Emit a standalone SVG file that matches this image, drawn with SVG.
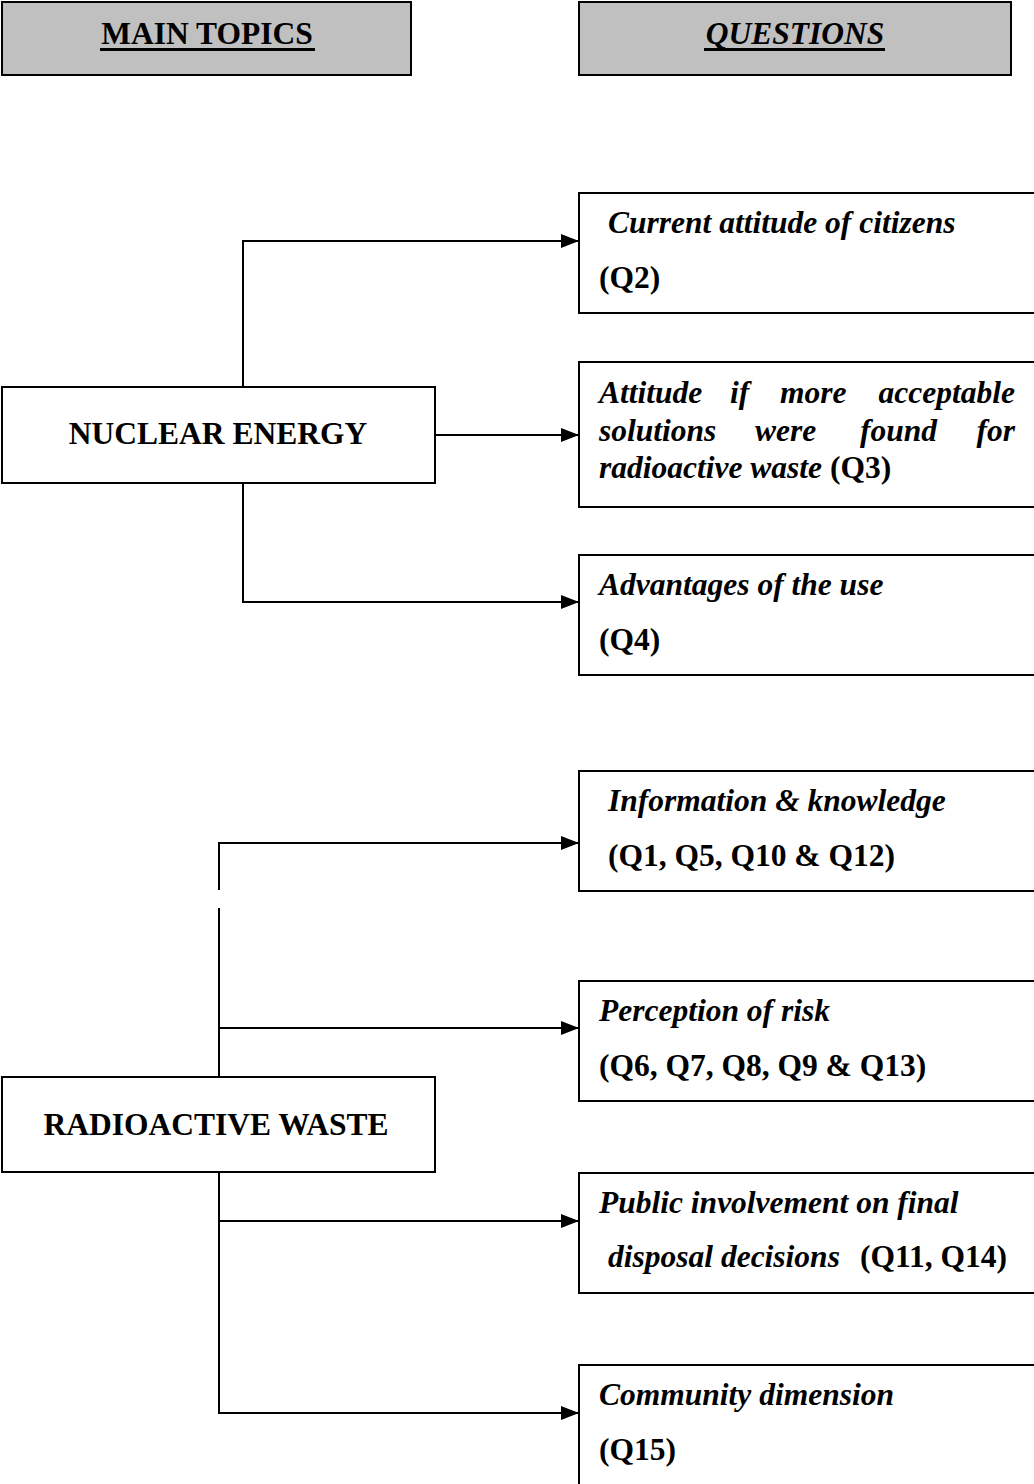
<svg xmlns="http://www.w3.org/2000/svg" width="1034" height="1484" viewBox="0 0 1034 1484">
<style>
.hdr{fill:#c0c0c0;stroke:#000;stroke-width:2}
.box{fill:#fff;stroke:#000;stroke-width:2}
.t{font-family:"Liberation Serif","Times New Roman",serif;font-size:31.5px;font-weight:bold;fill:#000}
.i{font-style:italic}
.c{text-anchor:middle}
.e{text-anchor:end}
.ln{fill:none;stroke:#000;stroke-width:2}
.ul{fill:#000}
</style>
<defs>
<marker id="ah" viewBox="0 0 18 14" refX="18" refY="7" markerWidth="9" markerHeight="7" markerUnits="strokeWidth" orient="auto">
<path d="M0,0 L18,7 L0,14 Z" fill="#000"/>
</marker>
</defs>
<g id="hdr-main"><rect class="hdr" x="2" y="2" width="409" height="73"/><text class="t c" x="207" y="44">MAIN TOPICS</text><rect class="ul" x="100" y="48" width="215" height="3"/></g>
<g id="hdr-questions"><rect class="hdr" x="579" y="2" width="432" height="73"/><text class="t i c" x="795" y="44">QUESTIONS</text><rect class="ul" x="704" y="48" width="181" height="3"/></g>

<g id="connectors">
<polyline class="ln" points="243,387 243,241 579,241" marker-end="url(#ah)"/>
<line class="ln" x1="435" y1="435" x2="579" y2="435" marker-end="url(#ah)"/>
<polyline class="ln" points="243,483 243,602 579,602" marker-end="url(#ah)"/>
<polyline class="ln" points="219,890 219,843 579,843" marker-end="url(#ah)"/>
<line class="ln" x1="219" y1="908" x2="219" y2="1077"/>
<line class="ln" x1="219" y1="1028" x2="579" y2="1028" marker-end="url(#ah)"/>
<polyline class="ln" points="219,1172 219,1413 579,1413" marker-end="url(#ah)"/>
<line class="ln" x1="219" y1="1221" x2="579" y2="1221" marker-end="url(#ah)"/>
</g>

<g id="nuclear-energy"><rect class="box" x="2" y="387" width="433" height="96"/><text class="t c" x="218" y="444">NUCLEAR ENERGY</text></g>
<g id="radioactive-waste"><rect class="box" x="2" y="1077" width="433" height="95"/><text class="t c" x="216" y="1135">RADIOACTIVE WASTE</text></g>

<g id="q2"><rect class="box" x="579" y="193" width="470" height="120"/>
<text class="t i" x="608" y="233">Current attitude of citizens</text>
<text class="t" x="599" y="288">(Q2)</text></g>

<g id="q3"><rect class="box" x="579" y="362" width="470" height="145"/>
<text class="t i" x="599" y="403">Attitude</text><text class="t i" x="730" y="403">if</text><text class="t i" x="780" y="403">more</text><text class="t i e" x="1015" y="403">acceptable</text>
<text class="t i" x="599" y="441">solutions</text><text class="t i" x="755" y="441">were</text><text class="t i" x="860" y="441">found</text><text class="t i e" x="1015" y="441">for</text>
<text class="t" x="599" y="478"><tspan class="i">radioactive waste</tspan> (Q3)</text></g>

<g id="q4"><rect class="box" x="579" y="555" width="470" height="120"/>
<text class="t i" x="599" y="595">Advantages of the use</text>
<text class="t" x="599" y="650">(Q4)</text></g>

<g id="info"><rect class="box" x="579" y="771" width="470" height="120"/>
<text class="t i" x="608" y="811">Information &amp; knowledge</text>
<text class="t" x="608" y="866">(Q1, Q5, Q10 &amp; Q12)</text></g>

<g id="risk"><rect class="box" x="579" y="981" width="470" height="120"/>
<text class="t i" x="599" y="1021">Perception of risk</text>
<text class="t" x="599" y="1076">(Q6, Q7, Q8, Q9 &amp; Q13)</text></g>

<g id="public"><rect class="box" x="579" y="1173" width="470" height="120"/>
<text class="t i" x="599" y="1213">Public involvement on final</text>
<text class="t" x="608" y="1267"><tspan class="i">disposal decisions</tspan><tspan x="860">(Q11, Q14)</tspan></text></g>

<g id="community"><rect class="box" x="579" y="1365" width="470" height="140"/>
<text class="t i" x="599" y="1405">Community dimension</text>
<text class="t" x="599" y="1460">(Q15)</text></g>
</svg>
